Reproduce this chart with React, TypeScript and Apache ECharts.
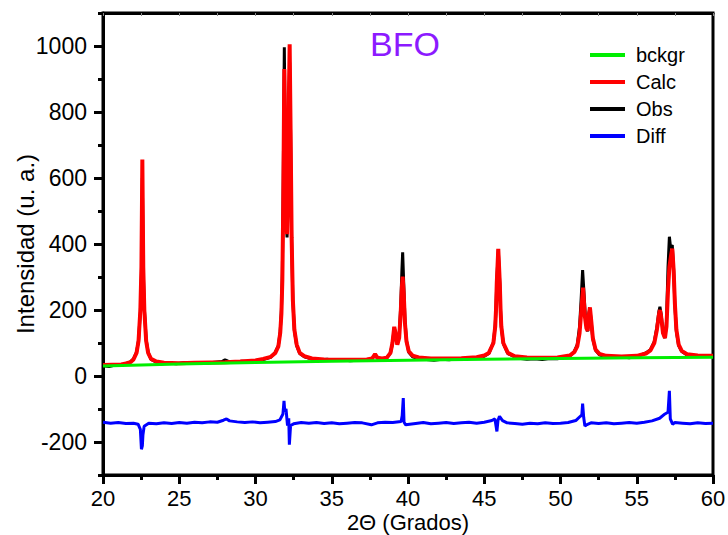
import { useEffect, useRef } from "react";
import * as echarts from "echarts";

// Each series is a list of [2θ (degrees), intensity (a.u.)] points.

// Background (bckgr)
const bckgrProfile: [number, number][] = [
  [20, 30], [25, 36], [30, 41], [35, 45], [40, 48], [45, 51], [50, 53], [55, 55], [60, 57],
];

// Calculated profile (Calc)
const calcProfile: [number, number][] = [
  [20, 33], [20.6, 34], [21.2, 35], [21.5, 38], [21.8, 42], [22.0, 50], [22.2, 70], [22.33, 106], [22.45, 200],
  [22.52, 330], [22.58, 656], [22.64, 330], [22.71, 200], [22.83, 106], [22.96, 70], [23.15, 52], [23.5, 44],
  [24, 40], [25, 39], [26, 40], [27, 41], [28, 42], [29, 44], [30, 47], [30.5, 52], [31.0, 58], [31.3, 70],
  [31.5, 90], [31.62, 130], [31.7, 190], [31.76, 290], [31.82, 520], [31.89, 930], [31.96, 640], [32.02, 470],
  [32.07, 430], [32.13, 560], [32.19, 850], [32.24, 1005], [32.3, 750], [32.37, 420], [32.45, 230], [32.55, 140],
  [32.7, 95], [32.9, 70], [33.2, 60], [33.7, 53], [34.5, 50], [35.5, 49], [36.5, 49], [37.3, 50], [37.65, 53],
  [37.84, 66], [38.0, 55], [38.3, 53], [38.6, 55], [38.85, 70], [38.98, 100], [39.1, 149], [39.2, 125],
  [39.3, 95], [39.42, 115], [39.52, 190], [39.6, 270], [39.65, 301], [39.72, 250], [39.8, 160], [39.9, 105],
  [40.05, 75], [40.3, 62], [40.7, 56], [41.5, 53], [42.5, 53], [43.5, 54], [44.5, 57], [45.0, 62], [45.3, 70],
  [45.6, 100], [45.72, 150], [45.77, 200], [45.82, 280], [45.92, 385], [46.02, 280], [46.07, 200], [46.12, 150],
  [46.25, 100], [46.55, 70], [47, 60], [47.8, 56], [48.8, 55], [49.8, 56], [50.6, 62], [50.9, 72], [51.1, 90],
  [51.25, 130], [51.35, 190], [51.48, 268], [51.6, 180], [51.7, 145], [51.78, 137], [51.86, 185], [51.93, 208],
  [52.02, 165], [52.12, 115], [52.3, 80], [52.55, 67], [53, 61], [54, 59], [55, 61], [55.6, 68], [55.9, 78],
  [56.15, 100], [56.32, 140], [56.45, 185], [56.52, 200], [56.6, 180], [56.72, 130], [56.85, 115], [56.95, 150],
  [57.05, 260], [57.14, 330], [57.25, 365], [57.33, 386], [57.42, 320], [57.5, 220], [57.6, 140], [57.75, 95],
  [57.95, 76], [58.3, 66], [59, 62], [60, 61],
];

// Observed pattern (Obs)
const obsProfile: [number, number][] = [
  [20, 31], [20.4, 29], [20.8, 33], [21.2, 32], [21.5, 36], [21.8, 43], [22.0, 52], [22.2, 72], [22.33, 108],
  [22.45, 195], [22.52, 310], [22.58, 600], [22.64, 320], [22.71, 205], [22.83, 110], [22.96, 72], [23.15, 50],
  [23.5, 42], [23.9, 37], [24.3, 39], [24.8, 37], [25.3, 40], [25.8, 38], [26.3, 41], [26.8, 39], [27.3, 42],
  [27.8, 44], [28.0, 49], [28.2, 45], [28.6, 42], [29.1, 45], [29.6, 44], [30.0, 47], [30.5, 50], [31.0, 57],
  [31.3, 72], [31.5, 92], [31.62, 135], [31.7, 200], [31.76, 310], [31.82, 600], [31.89, 996], [31.96, 660],
  [32.02, 465], [32.07, 420], [32.13, 545], [32.19, 820], [32.24, 950], [32.3, 740], [32.37, 410], [32.45, 228],
  [32.55, 138], [32.7, 92], [32.9, 68], [33.2, 58], [33.7, 51], [34.2, 49], [34.7, 51], [35.2, 47], [35.7, 49],
  [36.2, 46], [36.7, 48], [37.2, 47], [37.6, 51], [37.84, 64], [38.0, 53], [38.3, 51], [38.6, 54], [38.85, 70],
  [38.98, 98], [39.1, 148], [39.2, 122], [39.3, 96], [39.42, 120], [39.52, 210], [39.6, 320], [39.65, 375],
  [39.72, 280], [39.8, 170], [39.9, 108], [40.05, 72], [40.3, 58], [40.7, 52], [41.2, 50], [41.7, 48], [42.2, 51],
  [42.7, 49], [43.2, 52], [43.7, 51], [44.2, 54], [44.7, 56], [45.0, 60], [45.3, 68], [45.6, 102], [45.72, 155],
  [45.77, 205], [45.82, 285], [45.92, 383], [46.02, 280], [46.07, 198], [46.12, 148], [46.25, 98], [46.55, 68],
  [47, 58], [47.4, 53], [47.8, 51], [48.3, 52], [48.8, 50], [49.3, 53], [49.8, 52], [50.2, 56], [50.6, 60],
  [50.9, 74], [51.1, 95], [51.25, 150], [51.35, 230], [51.45, 321], [51.55, 245], [51.65, 165], [51.78, 135],
  [51.86, 190], [51.93, 206], [52.02, 162], [52.12, 112], [52.3, 78], [52.55, 64], [53, 57], [53.5, 56], [54, 58],
  [54.5, 55], [55, 59], [55.6, 70], [55.9, 80], [56.15, 104], [56.32, 148], [56.45, 195], [56.52, 210],
  [56.6, 188], [56.72, 132], [56.85, 115], [56.95, 165], [57.05, 330], [57.14, 422], [57.22, 388], [57.33, 397],
  [57.42, 320], [57.5, 215], [57.6, 135], [57.75, 92], [57.95, 74], [58.3, 64], [58.7, 60], [59.1, 62],
  [59.5, 59], [60, 60],
];

// Difference curve (Diff), drawn shifted below the patterns
const diffProfile: [number, number][] = [
  [20, -140], [20.5, -143], [21, -141], [21.5, -144], [22, -143], [22.3, -146], [22.45, -162], [22.52, -222],
  [22.58, -212], [22.62, -178], [22.7, -152], [23, -143], [23.5, -145], [24, -142], [24.5, -144], [25, -141],
  [25.5, -143], [26, -140], [26.5, -142], [27, -139], [27.5, -140], [27.9, -134], [28.1, -130], [28.3, -136],
  [28.8, -139], [29.3, -141], [29.8, -139], [30.3, -142], [30.8, -140], [31.3, -138], [31.6, -133], [31.8, -115],
  [31.87, -75], [31.92, -108], [32.0, -100], [32.1, -150], [32.18, -128], [32.22, -208], [32.3, -150],
  [32.5, -145], [33, -141], [33.5, -143], [34, -141], [34.5, -144], [35, -142], [35.5, -145], [36, -143],
  [36.5, -141], [37, -142], [37.6, -148], [38, -142], [38.5, -140], [39, -141], [39.55, -138], [39.62, -120],
  [39.69, -67], [39.74, -140], [39.85, -148], [40.5, -144], [41, -141], [41.5, -145], [42, -143], [42.5, -141],
  [43, -144], [43.5, -142], [44, -140], [44.5, -143], [45, -140], [45.5, -135], [45.7, -130], [45.83, -168],
  [45.9, -135], [46.0, -122], [46.2, -135], [46.5, -142], [47, -144], [47.5, -146], [48, -143], [48.5, -145],
  [49, -142], [49.5, -144], [50, -143], [50.5, -141], [51, -135], [51.3, -122], [51.4, -118], [51.45, -84],
  [51.52, -125], [51.6, -152], [51.7, -148], [52, -142], [52.5, -144], [53, -142], [53.5, -145], [54, -143],
  [54.5, -141], [55, -143], [55.5, -140], [56, -136], [56.5, -128], [56.85, -115], [57.05, -110], [57.14, -45],
  [57.2, -130], [57.35, -146], [57.5, -141], [58, -143], [58.5, -145], [59, -142], [59.5, -144], [60, -143],
];

const yLabelValues = [-200, 0, 200, 400, 600, 800, 1000];

const FONT = "'Liberation Sans', Arial, Helvetica, sans-serif";

export default function App() {
  const ref = useRef<HTMLDivElement>(null);

  useEffect(() => {
    if (!ref.current) return;
    const chart = echarts.init(ref.current, null, { renderer: "svg" });
    const axisText = { color: "#000", fontSize: 23, fontFamily: FONT };
    const blackLine = { color: "#000", width: 3 };
    chart.setOption({
      animation: false,
      backgroundColor: "#fff",
      textStyle: { fontFamily: FONT },
      title: {
        text: "BFO",
        left: 365,
        top: 22,
        textStyle: { color: "#8c1aff", fontSize: 34, fontWeight: "normal", fontFamily: FONT },
      },
      legend: {
        orient: "vertical",
        left: 585,
        top: 40,
        icon: "rect",
        itemWidth: 35,
        itemHeight: 4,
        itemGap: 7,
        data: ["bckgr", "Calc", "Obs", "Diff"],
        textStyle: { color: "#000", fontSize: 20, lineHeight: 20, fontFamily: FONT, padding: [0, 0, 0, 6] },
      },
      grid: {
        left: 103,
        right: 15,
        top: 13,
        bottom: 60,
        containLabel: false,
        outerBoundsMode: "none",
        show: true,
        borderColor: "#000",
        borderWidth: 3,
        backgroundColor: "transparent",
      },
      xAxis: [
        {
          type: "value",
          min: 20,
          max: 60,
          interval: 5,
          name: "2Θ (Grados)",
          nameLocation: "middle",
          nameGap: 37,
          nameMoveOverlap: false,
          nameTextStyle: { color: "#000", fontSize: 22, lineHeight: 20, fontFamily: FONT },
          axisLine: { show: true, onZero: false, lineStyle: blackLine },
          axisTick: { show: true, inside: false, length: 9, lineStyle: blackLine },
          minorTick: { show: true, splitNumber: 2, length: 5, lineStyle: blackLine },
          axisLabel: { ...axisText, fontSize: 22, margin: 12 },
          splitLine: { show: false },
        },
        {
          type: "value",
          position: "top",
          min: 20,
          max: 60,
          interval: 2.5,
          axisLine: { show: true, onZero: false, lineStyle: blackLine },
          axisTick: { show: true, inside: true, length: 3, lineStyle: { width: 1, color: "#888" } },
          axisLabel: { show: false },
          splitLine: { show: false },
        },
      ],
      yAxis: [
        {
          type: "value",
          min: -300,
          max: 1100,
          interval: 100,
          name: "Intensidad (u. a.)",
          nameLocation: "middle",
          nameGap: 66,
          nameMoveOverlap: false,
          nameTextStyle: { color: "#000", fontSize: 24, fontFamily: FONT },
          axisLine: { show: true, onZero: false, lineStyle: blackLine },
          axisTick: { show: true, inside: false, length: 5, lineStyle: blackLine },
          axisLabel: {
            ...axisText,
            margin: 16,
            formatter: (v: number) => (yLabelValues.includes(v) ? String(v) : ""),
          },
          splitLine: { show: false },
        },
        {
          type: "value",
          min: -300,
          max: 1100,
          position: "left",
          axisLine: { show: false },
          axisTick: { show: true, inside: false, length: 9, customValues: yLabelValues, lineStyle: blackLine },
          axisLabel: { show: false },
          splitLine: { show: false },
        },
      ],
      series: [
        {
          name: "Obs",
          type: "line",
          showSymbol: false,
          data: obsProfile,
          lineStyle: { color: "#000", width: 3 },
          itemStyle: { color: "#000" },
          z: 2,
        },
        {
          name: "Calc",
          type: "line",
          showSymbol: false,
          data: calcProfile,
          lineStyle: { color: "#ff0000", width: 4 },
          itemStyle: { color: "#ff0000" },
          z: 3,
        },
        {
          name: "bckgr",
          type: "line",
          showSymbol: false,
          data: bckgrProfile,
          lineStyle: { color: "#00ee00", width: 3 },
          itemStyle: { color: "#00ee00" },
          z: 4,
        },
        {
          name: "Diff",
          type: "line",
          showSymbol: false,
          data: diffProfile,
          lineStyle: { color: "#0000ff", width: 3 },
          itemStyle: { color: "#0000ff" },
          z: 4,
        },
      ],
    });
    return () => chart.dispose();
  }, []);

  return (
    <div
      ref={ref}
      style={{ position: "fixed", left: 0, top: 0, width: 728, height: 535, background: "#fff" }}
    />
  );
}
